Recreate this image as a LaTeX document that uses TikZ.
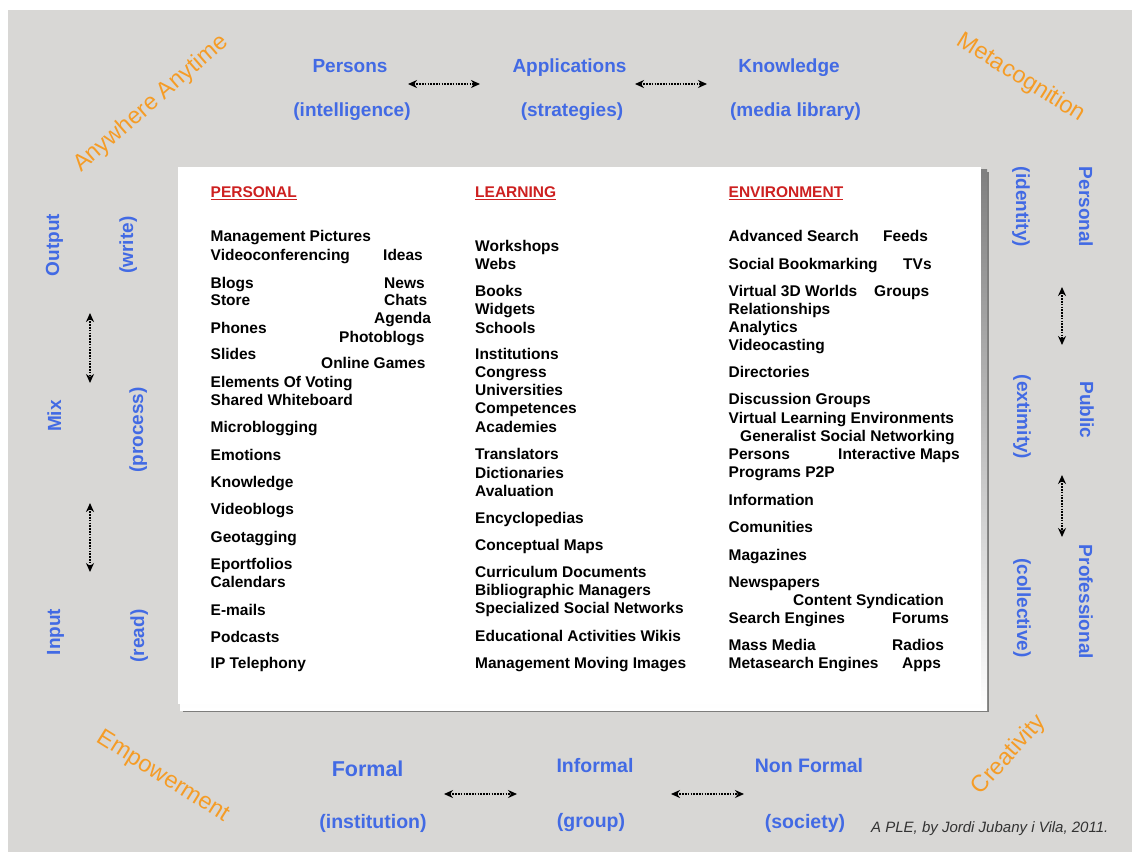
\documentclass[tikz,border=0pt]{standalone}
\usepackage{fontspec}
\setmainfont{Liberation Sans}
\usetikzlibrary{arrows.meta}

\definecolor{paper}{RGB}{216,215,213}
\definecolor{plered}{RGB}{205,32,32}
\definecolor{pleblue}{RGB}{66,106,228}
\definecolor{pleorange}{RGB}{245,156,38}
\definecolor{shade}{RGB}{35,35,35}

\newcommand\pleitemfont{\fontsize{15.5}{18}\selectfont\bfseries}
\newcommand\plebluefont{\fontsize{19}{22}\selectfont\bfseries}

\begin{document}
\begin{tikzpicture}[x=1pt,y=-1pt,
  listitem/.style={anchor=base west, inner sep=0pt, font=\pleitemfont, text=black},
  header/.style={anchor=base west, inner sep=0pt, font=\pleitemfont, text=plered},
  bluelab/.style={anchor=base, inner sep=0pt, font=\plebluefont, text=pleblue},
  bottomlab/.style={bluelab, font=\fontsize{19.5}{22}\selectfont\bfseries},
  orangelab/.style={anchor=center, inner sep=0pt, font=\fontsize{23.5}{26}\selectfont, text=pleorange},
  dblarrow/.style={{Stealth[length=9pt,width=8pt]}-{Stealth[length=9pt,width=8pt]},
    line width=2pt, dash pattern=on 1.6pt off 1.2pt, black}]

\useasboundingbox (0,0) rectangle (1138,857);

% paper background
\fill[white] (0,0) rectangle (1138,857);
\fill[paper] (8,10) rectangle (1132,852);

% central panel with its dark edge
\fill[shade!50!paper] (183,172) rectangle (989,712);
\fill[shade] (180,169) rectangle (987,710);
\fill[white] (178,167) rectangle (981,704);

% column headings
\node[header] (hP) at (210.5,197) {PERSONAL};
\node[header] (hL) at (475,197) {LEARNING};
\node[header] (hE) at (728.5,197) {ENVIRONMENT};
\foreach \h in {hP,hL,hE}
  \draw[plered, line width=1.3pt] ([yshift=-2.8pt]\h.base west) -- ([yshift=-2.8pt]\h.base east);

% PERSONAL column
\foreach \t/\yb [count=\i] in {Management Pictures/241.7, Videoconferencing/260, Blogs/288,
    Store/305, Phones/333, Slides/359, Elements Of Voting/387, Shared Whiteboard/405,
    Microblogging/432, Emotions/460, Knowledge/487, Videoblogs/514, Geotagging/542,
    Eportfolios/569, Calendars/587, E-mails/615, Podcasts/642, IP Telephony/668}
  \node[listitem] (pa\i) at (210.5,\yb) {\t};
\node[listitem] (pb1) at (383,260) {Ideas};
\node[listitem] (pb2) at (384,288) {News};
\node[listitem] (pb3) at (384,305) {Chats};
\node[listitem] (pb4) at (374,323) {Agenda};
\node[listitem] (pb5) at (339,342) {Photoblogs};
\node[listitem] (pb6) at (321,368) {Online Games};

% LEARNING column
\foreach \t/\yb [count=\i] in {Workshops/251, Webs/269, Books/296, Widgets/314, Schools/333,
    Institutions/359, Congress/377, Universities/395, Competences/413, Academies/432,
    Translators/459, Dictionaries/478, Avaluation/496, Encyclopedias/523, Conceptual Maps/550,
    Curriculum Documents/577, Bibliographic Managers/595, Specialized Social Networks/613,
    Educational Activities Wikis/641, Management Moving Images/668}
  \node[listitem] (la\i) at (475,\yb) {\t};

% ENVIRONMENT column
\foreach \t/\yb [count=\i] in {Advanced Search/241, Social Bookmarking/269, Virtual 3D Worlds/296,
    Relationships/314, Analytics/332, Videocasting/350, Directories/377, Discussion Groups/404,
    Virtual Learning Environments/423, Persons/459, Programs P2P/477, Information/505,
    Comunities/532, Magazines/560, Newspapers/587, Search Engines/623, Mass Media/650,
    Metasearch Engines/668}
  \node[listitem] (ea\i) at (728.5,\yb) {\t};
\node[listitem] (eb1) at (883,241) {Feeds};
\node[listitem] (eb2) at (903,269) {TVs};
\node[listitem] (eb3) at (874,296) {Groups};
\node[listitem] (eb4) at (740,441) {Generalist Social Networking};
\node[listitem] (eb5) at (838,459) {Interactive Maps};
\node[listitem] (eb6) at (793,605) {Content Syndication};
\node[listitem] (eb7) at (892,623) {Forums};
\node[listitem] (eb8) at (892,650) {Radios};
\node[listitem] (eb9) at (902,668) {Apps};

% top row
\node[bluelab] (persons) at (350,72.5) {Persons};
\node[bluelab] (intel) at (352,116) {(intelligence)};
\node[bluelab] (apps) at (569.5,72.3) {Applications};
\node[bluelab] (strat) at (572,116) {(strategies)};
\node[bluelab] (know) at (789,72) {Knowledge};
\node[bluelab] (media) at (795.5,116) {(media library)};
\coordinate (t1a) at (408,84); \coordinate (t1b) at (480,84);
\coordinate (t2a) at (635,84); \coordinate (t2b) at (707,84);
\draw[dblarrow] (t1a) -- (t1b);
\draw[dblarrow] (t2a) -- (t2b);

% left column
\node[bluelab, rotate=90] (output) at (59,245) {Output};
\node[bluelab, rotate=90] (write) at (133,245) {(write)};
\node[bluelab, rotate=90] (mix) at (61,416) {Mix};
\node[bluelab, rotate=90] (process) at (143,430) {(process)};
\node[bluelab, rotate=90] (input) at (60,632) {Input};
\node[bluelab, rotate=90] (read) at (144,636) {(read)};
\coordinate (l1a) at (90,313); \coordinate (l1b) at (90,383);
\coordinate (l2a) at (90,503); \coordinate (l2b) at (90,572);
\draw[dblarrow] (l1a) -- (l1b);
\draw[dblarrow] (l2a) -- (l2b);

% right column
\node[bluelab, rotate=-90] (personal) at (1079,207) {Personal};
\node[bluelab, rotate=-90] (identity) at (1016,207) {(identity)};
\node[bluelab, rotate=-90] (public) at (1080,410) {Public};
\node[bluelab, rotate=-90] (extimity) at (1017,417) {(extimity)};
\node[bluelab, rotate=-90] (profes) at (1079,602) {Professional};
\node[bluelab, rotate=-90] (collect) at (1017,608) {(collective)};
\coordinate (r1a) at (1062,287); \coordinate (r1b) at (1062,345);
\coordinate (r2a) at (1062,475); \coordinate (r2b) at (1062,537);
\draw[dblarrow] (r1a) -- (r1b);
\draw[dblarrow] (r2a) -- (r2b);

% bottom row
\node[bottomlab, font=\fontsize{21.5}{24}\selectfont\bfseries] (formal) at (367.6,776) {Formal};
\node[bottomlab] (informal) at (595,772) {Informal};
\node[bottomlab] (nonformal) at (809,772) {Non Formal};
\node[bottomlab] (instit) at (373,828) {(institution)};
\node[bottomlab] (group) at (591,827) {(group)};
\node[bottomlab] (society) at (805,828) {(society)};
\coordinate (b1a) at (444,794); \coordinate (b1b) at (517,794);
\coordinate (b2a) at (671,794); \coordinate (b2b) at (744,794);
\draw[dblarrow] (b1a) -- (b1b);
\draw[dblarrow] (b2a) -- (b2b);

% corner words
\node[orangelab, rotate=41] (anywhere) at (151,104) {Anywhere Anytime};
\node[orangelab, rotate=-32] (metacog) at (1021,78) {Metacognition};
\node[orangelab, rotate=-32] (empower) at (163,777) {Empowerment};
\node[orangelab, rotate=48] (creat) at (1009,755) {Creativity};

% credit line
\node[anchor=base west, inner sep=0pt, font=\fontsize{15}{18}\selectfont\itshape,
  text=black!80] (credit) at (871,832) {A PLE, by Jordi Jubany i Vila, 2011.};

\end{tikzpicture}
\end{document}
